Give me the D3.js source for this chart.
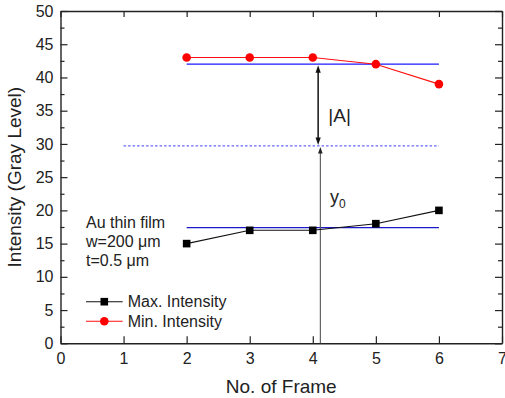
<!DOCTYPE html>
<html lang="en">
<head>
<meta charset="UTF-8">
<title>Intensity vs Frame</title>
<script src="https://d3js.org/d3.v7.min.js"></script>
<style>
    body { margin: 0; padding: 0; background: white; }
    svg { display: block; font-family: Arial, 'Liberation Sans', sans-serif; }
    .axis path, .axis line { stroke: #222; }
    .axis path { stroke-width: 1.4; }
    .axis line { stroke-width: 1.2; }
    .axis text { font-size: 16px; fill: #222; font-family: Arial, 'Liberation Sans', sans-serif; }
</style>
</head>
<body>
<svg id="chart" width="505" height="398"></svg>
<script>
    // data
    const frames = [2, 3, 4, 5, 6];
    const maxIntensity = [15, 17, 17, 18, 20];
    const minIntensity = [43, 43, 43, 42, 39];
    const minMean = 42;      // mean of min intensity
    const maxMean = 17.4;    // mean of max intensity
    const midLevel = 29.7;   // y0 level
    const xTicks = [0, 1, 2, 3, 4, 5, 6, 7];
    const yTicks = [0, 5, 10, 15, 20, 25, 30, 35, 40, 45, 50];
    const yMinorTicks = [2.5, 7.5, 12.5, 17.5, 22.5, 27.5, 32.5, 37.5, 42.5, 47.5];
    const noteLines = ["Au thin film", "w=200 \u03bcm", "t=0.5 \u03bcm"];
    const legendLabels = ["Max. Intensity", "Min. Intensity"];

    const width = 505, height = 398;
    const margin = {left: 60.5, right: 3, top: 11, bottom: 54.7};

    const svg = d3.select("#chart");

    const x = d3.scaleLinear().domain([0, 7]).range([margin.left, width - margin.right]);
    const y = d3.scaleLinear().domain([0, 50]).range([height - margin.bottom, margin.top]);
    const fmt = d3.format("d");

    // axes, ticks pointing inward
    svg.append("g").attr("class", "axis")
        .attr("transform", "translate(0," + y(0) + ")")
        .call(d3.axisBottom(x).tickValues(xTicks).tickFormat(fmt).tickSize(-7).tickSizeOuter(0).tickPadding(9));

    svg.append("g").attr("class", "axis")
        .attr("transform", "translate(0," + y(50) + ")")
        .call(d3.axisTop(x).tickValues(xTicks).tickSize(-6).tickSizeOuter(0).tickFormat(""));

    svg.append("g").attr("class", "axis")
        .attr("transform", "translate(" + x(0) + ",0)")
        .call(d3.axisLeft(y).tickValues(yTicks).tickFormat(fmt).tickSize(-7).tickSizeOuter(0).tickPadding(7));

    svg.append("g").attr("class", "axis")
        .attr("transform", "translate(" + x(0) + ",0)")
        .call(d3.axisLeft(y).tickValues(yMinorTicks).tickSize(-4).tickSizeOuter(0).tickFormat(""))
        .select(".domain").remove();

    svg.append("g").attr("class", "axis")
        .attr("transform", "translate(" + x(7) + ",0)")
        .call(d3.axisRight(y).tickValues(yTicks).tickSize(-7).tickSizeOuter(0).tickFormat(""));

    svg.append("g").attr("class", "axis")
        .attr("transform", "translate(" + x(7) + ",0)")
        .call(d3.axisRight(y).tickValues(yMinorTicks).tickSize(-4).tickSizeOuter(0).tickFormat(""))
        .select(".domain").remove();

    // axis titles
    svg.append("text")
        .attr("x", (x(0) + x(7)) / 2)
        .attr("y", 392.5)
        .attr("text-anchor", "middle")
        .style("font-size", "19px")
        .attr("fill", "#222")
        .text("No. of Frame");

    svg.append("text")
        .attr("transform", "translate(21," + (y(25)) + ") rotate(-90)")
        .attr("text-anchor", "middle")
        .style("font-size", "19px")
        .attr("fill", "#222")
        .text("Intensity (Gray Level)");

    // reference lines
    svg.append("line")
        .attr("x1", x(2)).attr("x2", x(6))
        .attr("y1", y(minMean)).attr("y2", y(minMean))
        .attr("stroke", "#1a1aff").attr("stroke-width", 1.2);

    svg.append("line")
        .attr("x1", x(2)).attr("x2", x(6))
        .attr("y1", y(maxMean)).attr("y2", y(maxMean))
        .attr("stroke", "#1a1acc").attr("stroke-width", 1.2);

    svg.append("line")
        .attr("x1", x(1)).attr("x2", x(6))
        .attr("y1", y(midLevel)).attr("y2", y(midLevel))
        .attr("stroke", "#6666ff").attr("stroke-width", 1.4)
        .attr("stroke-dasharray", "2.5,2");

    // y0 arrow (gray, from the axis up to the mid level)
    const xY0 = 4.12, xA = 4.085;
    svg.append("line")
        .attr("x1", x(xY0)).attr("x2", x(xY0))
        .attr("y1", y(0)).attr("y2", y(midLevel) + 6)
        .attr("stroke", "#555").attr("stroke-width", 1.1);
    svg.append("path")
        .attr("d", "M" + x(xY0) + "," + (y(midLevel) + 1) +
                   "L" + (x(xY0) - 2.3) + "," + (y(midLevel) + 7.5) +
                   "L" + (x(xY0) + 2.3) + "," + (y(midLevel) + 7.5) + "Z")
        .attr("fill", "#222");

    // |A| double arrow
    svg.append("line")
        .attr("x1", x(xA)).attr("x2", x(xA))
        .attr("y1", y(minMean) + 6).attr("y2", y(midLevel) - 6)
        .attr("stroke", "#111").attr("stroke-width", 1.5);
    svg.append("path")
        .attr("d", "M" + x(xA) + "," + (y(minMean) + 1) +
                   "L" + (x(xA) - 2.6) + "," + (y(minMean) + 8.5) +
                   "L" + (x(xA) + 2.6) + "," + (y(minMean) + 8.5) + "Z")
        .attr("fill", "#111");
    svg.append("path")
        .attr("d", "M" + x(xA) + "," + (y(midLevel) - 1) +
                   "L" + (x(xA) - 2.6) + "," + (y(midLevel) - 8.5) +
                   "L" + (x(xA) + 2.6) + "," + (y(midLevel) - 8.5) + "Z")
        .attr("fill", "#111");

    // series
    const line = d3.line().x(d => x(d[0])).y(d => y(d[1]));
    const maxPts = frames.map((f, i) => [f, maxIntensity[i]]);
    const minPts = frames.map((f, i) => [f, minIntensity[i]]);

    svg.append("path").datum(maxPts)
        .attr("d", line).attr("fill", "none").attr("stroke", "#111").attr("stroke-width", 1.1);
    svg.append("path").datum(minPts)
        .attr("d", line).attr("fill", "none").attr("stroke", "#ff1010").attr("stroke-width", 1.1);

    svg.selectAll(".sq").data(maxPts).enter().append("rect")
        .attr("class", "sq")
        .attr("x", d => x(d[0]) - 3.8).attr("y", d => y(d[1]) - 3.8)
        .attr("width", 7.6).attr("height", 7.6)
        .attr("fill", "#000");

    svg.selectAll(".dot").data(minPts).enter().append("circle")
        .attr("class", "dot")
        .attr("cx", d => x(d[0])).attr("cy", d => y(d[1]))
        .attr("r", 4.3)
        .attr("fill", "#ff0000");

    // annotations
    svg.append("text")
        .attr("x", 328.3).attr("y", 121.7)
        .style("font-size", "19px").attr("fill", "#222")
        .text("|A|");

    const y0 = svg.append("text")
        .attr("x", 330).attr("y", 202.6)
        .style("font-size", "18px").attr("fill", "#222");
    y0.append("tspan").text("y");
    y0.append("tspan").attr("dy", 5.5).style("font-size", "12px").text("0");

    svg.append("g").selectAll("text").data(noteLines).enter().append("text")
        .attr("x", 86).attr("y", (d, i) => 228 + i * 19.2)
        .style("font-size", "16px").attr("fill", "#222")
        .text(d => d);

    // legend
    const legend = svg.append("g").attr("transform", "translate(86,301.7)");
    legendLabels.forEach((lab, i) => {
        const g = legend.append("g").attr("transform", "translate(0," + (i * 19.5) + ")");
        const col = i === 0 ? "#111" : "#ff1010";
        g.append("line").attr("x1", 0).attr("x2", 36.7).attr("y1", 0).attr("y2", 0)
            .attr("stroke", col).attr("stroke-width", 1.1);
        if (i === 0) {
            g.append("rect").attr("x", 18.3 - 3.8).attr("y", -3.8).attr("width", 7.6).attr("height", 7.6).attr("fill", "#000");
        } else {
            g.append("circle").attr("cx", 18.3).attr("cy", 0).attr("r", 4.3).attr("fill", "#ff0000");
        }
        g.append("text").attr("x", 41.7).attr("y", 5.5)
            .style("font-size", "16px").attr("fill", "#222")
            .text(lab);
    });
</script>
</body>
</html>
